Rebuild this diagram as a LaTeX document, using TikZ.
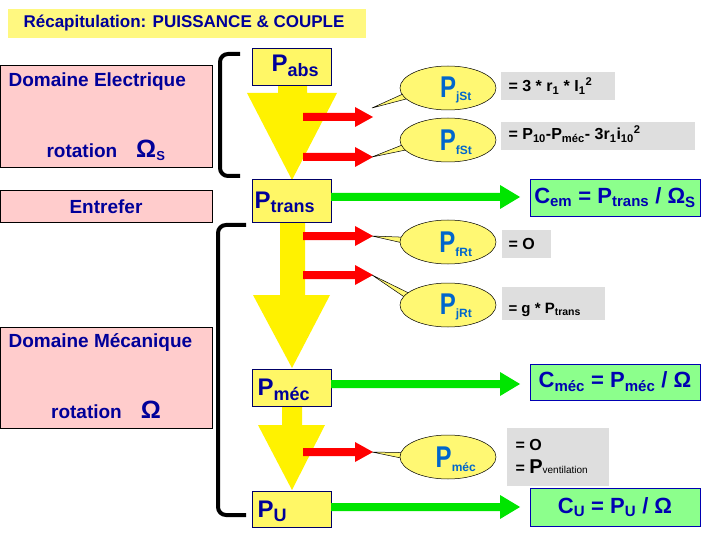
\documentclass[tikz,border=0pt]{standalone}
\usepackage{fontspec}
\setmainfont{Liberation Sans}
\definecolor{pblue}{RGB}{0,102,204}
\begin{document}
\begin{tikzpicture}[x=1pt,y=-1pt,
  every node/.style={font=\bfseries},
  pink/.style={draw=black,fill=red!20,line width=0.6pt},
  pbox/.style={draw=blue!40!black,fill=yellow!60,line width=0.8pt,anchor=west,inner sep=0pt},
  gbox/.style={fill=black!13},
  cbox/.style={draw=blue!70!black,fill=green!45,line width=0.8pt,text=blue!70!black,font=\bfseries\fontsize{22}{24}\selectfont},
  bul/.style={draw=black,fill=yellow!55,line width=0.5pt},
  txt/.style={text=blue!60!black},
  big/.style={txt,font=\bfseries\fontsize{24}{26}\selectfont,anchor=west},
  dom/.style={txt,font=\bfseries\fontsize{19}{21}\selectfont},
  gt/.style={font=\bfseries\fontsize{16}{18}\selectfont,anchor=west},
  ptxt/.style={text=pblue,font=\bfseries\fontsize{30}{30}\selectfont},
  redarr/.style={fill=red},
  yel/.style={fill=yellow},
  grn/.style={fill=green!90!black},
  brk/.style={line width=4pt,rounded corners=8pt}]
\useasboundingbox (0,0) rectangle (720,540);
% title
\fill[yellow!50] (8,9) rectangle (366,38);
\node[txt,font=\bfseries\fontsize{17}{19}\selectfont] (title) at (184,23) {Récapitulation: PUISSANCE \& COUPLE};
% left boxes
\draw[pink] (0,65) rectangle (212,167);
\node[dom,anchor=west] (de) at (5,82) {Domaine Electrique};
\node[dom] (rs) at (106,150) {rotation\quad{\fontsize{25}{25}\selectfont Ω}\textsubscript{\fontsize{13}{13}\selectfont S}};
\draw[pink] (0,190) rectangle (212,222);
\node[dom] (ent) at (106,207) {Entrefer};
\draw[pink] (0,327) rectangle (212,428);
\node[dom,anchor=west] (dm) at (5,343) {Domaine Mécanique};
\node[dom] (rm) at (106,410) {rotation\quad{\fontsize{25}{25}\selectfont Ω}};
% brackets
\draw[brk] (240,54) -- (220,54) -- (220,176) -- (240,176);
\draw[brk] (246,225) -- (218,225) -- (218,515) -- (246,515);
% yellow flow arrows
\fill[yel] (278,85) -- (307,85) -- (307,93) -- (337,93) -- (292,180) -- (247,93) -- (278,93) -- cycle;
\fill[yel] (280,222) -- (305,222) -- (305,295) -- (330,295) -- (292,368) -- (253,295) -- (280,295) -- cycle;
\fill[yel] (282,406) -- (302,406) -- (302,425) -- (325,425) -- (292,490) -- (258,425) -- (282,425) -- cycle;
% power boxes
\node[pbox,minimum width=79pt,minimum height=37pt] (pabs) at (252,66.5) {};
\node[big] (pabst) at (268,66) {P\textsubscript{\fontsize{18}{18}\selectfont abs}};
\node[pbox,minimum width=79pt,minimum height=43pt] (ptr) at (252,200.5) {};
\node[big] (ptrt) at (251,202) {P\textsubscript{\fontsize{18}{18}\selectfont trans}};
\node[pbox,minimum width=79pt,minimum height=37pt] (pmec) at (252,387.5) {};
\node[big] (pmect) at (254,390) {P\textsubscript{\fontsize{18}{18}\selectfont méc}};
\node[pbox,minimum width=79pt,minimum height=36pt] (pu) at (252,509) {};
\node[big] (put) at (254,511) {P\textsubscript{\fontsize{18}{18}\selectfont U}};
% red arrows
\foreach \y in {117,157,236,275,452}{
  \fill[redarr] (303,\y-4) -- (355,\y-4) -- (355,\y-10) -- (373,\y) -- (355,\y+10) -- (355,\y+4) -- (303,\y+4) -- cycle;}
% callouts
\foreach \cy/\ty/\sub/\n in {88/108/jSt/c1,140/157/fSt/c2,242/236/fRt/c3,305/275/jRt/c4,457/452/méc/c5}{
  \draw[bul] (372,\ty) -- (425,\cy-4) -- (425,\cy+6) -- cycle;
  \draw[bul] (448,\cy) ellipse (48 and 22);
  \fill[yellow!55] (418,\cy-5) rectangle (430,\cy+5);
  \node[ptxt,inner sep=0pt] (\n) at (456,\cy+2) {\scalebox{0.8}[1]{P}\textsubscript{\fontsize{12}{12}\selectfont\sub}};}
% gray boxes
\fill[gbox] (501,72) rectangle (615,100);
\node[gt] (g1) at (505,86) {= 3 * r\textsubscript{1} * I\textsubscript{1}\textsuperscript{2}};
\fill[gbox] (501,122) rectangle (695,150);
\node[gt] (g2) at (505,134) {= P\textsubscript{10}-P\textsubscript{méc}- 3r\textsubscript{1}i\textsubscript{10}\textsuperscript{2}};
\fill[gbox] (502,230) rectangle (551,258);
\node[gt] (g3) at (505,244) {= O};
\fill[gbox] (502,287) rectangle (605,320);
\node[gt,font=\bfseries\fontsize{15}{17}\selectfont] (g4) at (505,310) {= g * P\textsubscript{trans}};
\fill[gbox] (507,428) rectangle (609,486);
\node[gt] (g5a) at (512,445) {= O};
\node[gt] (g5b) at (512,467) {= {\fontsize{20}{20}\selectfont P}{\fontsize{10}{10}\selectfont\mdseries ventilation}};
% green arrows and boxes
\node[cbox,minimum width=170pt,minimum height=37pt] (cem) at (615,197.5) {C\textsubscript{\fontsize{15}{15}\selectfont em} = P\textsubscript{\fontsize{15}{15}\selectfont trans} / Ω\textsubscript{\fontsize{15}{15}\selectfont S}};
\node[cbox,minimum width=170pt,minimum height=36pt] (cmec) at (615,382) {C\textsubscript{\fontsize{15}{15}\selectfont méc} = P\textsubscript{\fontsize{15}{15}\selectfont méc} / Ω};
\node[cbox,minimum width=170pt,minimum height=38pt] (cu) at (615,507) {C\textsubscript{\fontsize{15}{15}\selectfont U} = P\textsubscript{\fontsize{15}{15}\selectfont U} / Ω};
\foreach \a/\b/\y in {ptr/cem/197, pmec/cmec/384, pu/cu/507}{
  \fill[grn] (331,\y-4) -- (500,\y-4) -- (500,\y-12) -- (520,\y) -- (500,\y+12) -- (500,\y+4) -- (331,\y+4) -- cycle;}
\end{tikzpicture}
\end{document}
